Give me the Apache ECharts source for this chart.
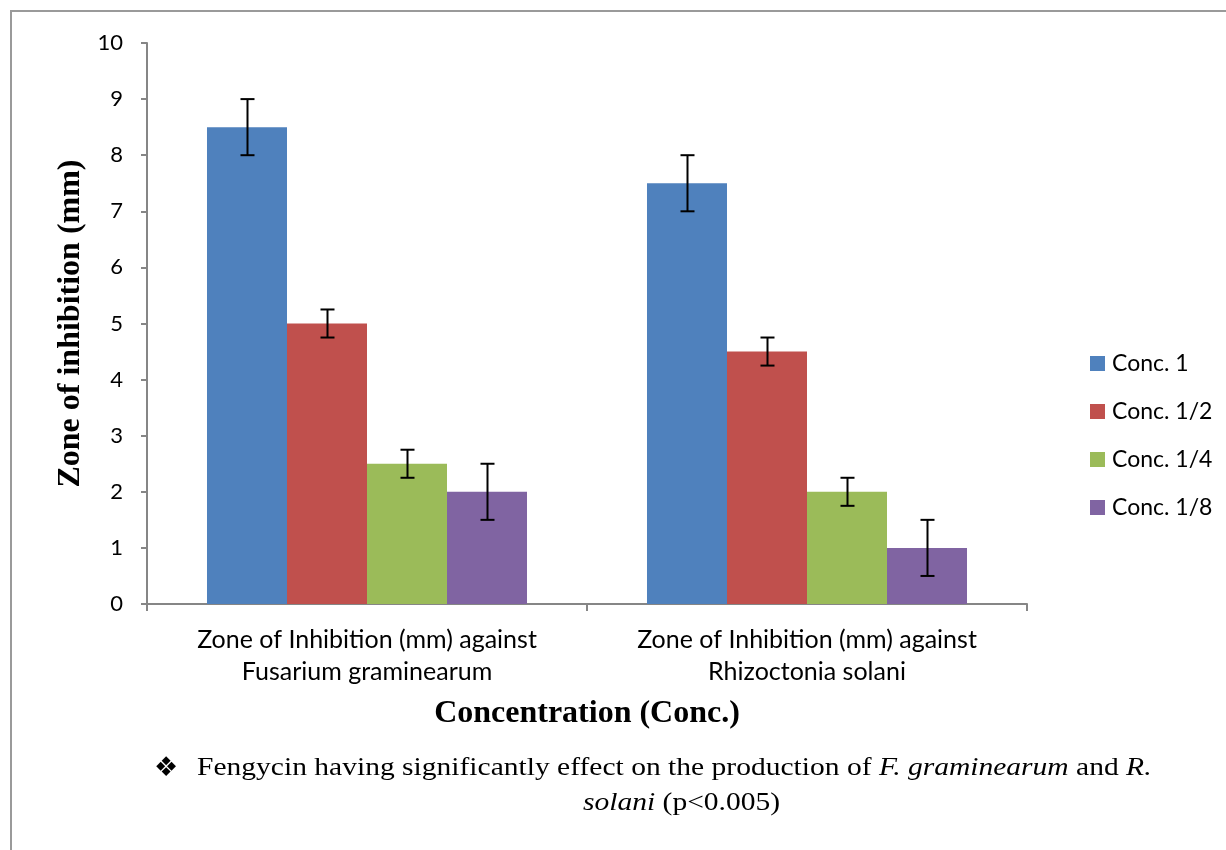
<!DOCTYPE html>
<html>
<head>
<meta charset="utf-8">
<script src="https://cdn.jsdelivr.net/npm/echarts@6/dist/echarts.min.js"></script>
<style>html,body{margin:0;padding:0;background:#fff}#c{width:1226px;height:850px}</style>
</head>
<body>
<div id="c"></div>
<script>
const categories = ['Zone of Inhibition (mm) against\nFusarium graminearum', 'Zone of Inhibition (mm) against\nRhizoctonia solani'];
const seriesNames = ['Conc. 1', 'Conc. 1/2', 'Conc. 1/4', 'Conc. 1/8'];
const conc1 = [8.5, 7.5];
const conc1_2 = [5, 4.5];
const conc1_4 = [2.5, 2];
const conc1_8 = [2, 1];
const err1 = [0.5, 0.5];
const err1_2 = [0.25, 0.25];
const err1_4 = [0.25, 0.25];
const err1_8 = [0.5, 0.5];
const colors = ['#4F81BD', '#C0504D', '#9BBB59', '#8064A2'];

const values = [conc1, conc1_2, conc1_4, conc1_8];
const errors = [err1, err1_2, err1_4, err1_8];
const GAP = 0.2727;

const chart = echarts.init(document.getElementById('c'));
const series = [];
values.forEach((v, i) => {
  series.push({
    name: seriesNames[i], type: 'bar', data: v, barGap: '0%', barCategoryGap: (GAP*100)+'%',
    itemStyle: { color: colors[i] }, z: 2
  });
});
values.forEach((v, i) => {
  series.push({
    type: 'custom', z: 5, silent: true,
    data: v.map((val, j) => [j, val - errors[i][j], val + errors[i][j]]),
    renderItem: function (params, api) {
      const band = api.size([1, 0])[0];
      const bw = band * (1 - GAP) / 4;
      const off = (i - 1.5) * bw;
      const lo = api.coord([api.value(0), api.value(1)]);
      const hi = api.coord([api.value(0), api.value(2)]);
      const x = Math.round(lo[0] + off) + 0.5;
      const hw = 7;
      const st = { stroke: '#000', lineWidth: 2 };
      return { type: 'group', children: [
        { type: 'line', shape: { x1: x, y1: lo[1], x2: x, y2: hi[1] }, style: st },
        { type: 'line', shape: { x1: x - hw, y1: lo[1], x2: x + hw, y2: lo[1] }, style: st },
        { type: 'line', shape: { x1: x - hw, y1: hi[1], x2: x + hw, y2: hi[1] }, style: st }
      ]};
    }
  });
});

const serif = 'Liberation Serif';
const rich = {
  n: { fontFamily: serif, fontSize: 26, fill: '#000' },
  i: { fontFamily: serif, fontSize: 26, fontStyle: 'italic', fill: '#000' }
};

chart.setOption({
  animation: false,
  grid: { left: 147, top: 43, right: 199, bottom: 246, containLabel: false },
  legend: {
    data: seriesNames, orient: 'vertical', left: 1085, top: 347,
    itemWidth: 15, itemHeight: 15, itemGap: 25, icon: 'rect',
    textStyle: { fontFamily: 'Lato', fontSize: 23, color: '#000', padding: [0, 0, 0, 2] }
  },
  xAxis: {
    type: 'category', data: categories,
    axisLine: { lineStyle: { color: '#868686', width: 2 } },
    axisTick: { show: true, length: 7, lineStyle: { color: '#868686', width: 2 } },
    axisLabel: { fontFamily: 'Lato', fontSize: 25, color: '#000', lineHeight: 32, margin: 20, interval: 0 },
    name: 'Concentration (Conc.)', nameLocation: 'middle', nameGap: 94,
    nameTextStyle: { fontFamily: serif, fontWeight: 'bold', fontSize: 32, color: '#000' }
  },
  yAxis: {
    type: 'value', min: 0, max: 10, interval: 1,
    splitLine: { show: false },
    axisLine: { show: true, lineStyle: { color: '#868686', width: 2 } },
    axisTick: { show: true, length: 6, lineStyle: { color: '#868686', width: 2 } },
    axisLabel: { fontFamily: 'Lato', fontSize: 22, color: '#000', margin: 24 },
    name: 'Zone of inhibition (mm)', nameLocation: 'middle', nameGap: 57,
    nameTextStyle: { fontFamily: serif, fontWeight: 'bold', fontSize: 32, color: '#000' }
  },
  series: series,
  graphic: [
    { type: 'polyline', shape: { points: [[11, 850], [11, 11], [1226, 11]] }, style: { fill: null, stroke: '#9a9a9a', lineWidth: 2 } },
    { type: 'text', x: 154, y: 755, style: { text: '❖', fontFamily: 'DejaVu Sans', fontSize: 27, fill: '#000' } },
    { type: 'text', x: 197, y: 755, scaleX: 1.136, style: {
        text: '{n|Fengycin having significantly effect on the production of }{i|F. graminearum}{n| and }{i|R.}',
        rich: rich } },
    { type: 'text', x: 583, y: 790, scaleX: 1.136, style: {
        text: '{i|solani}{n| (p<0.005)}',
        rich: rich } }
  ]
});
</script>
</body>
</html>
